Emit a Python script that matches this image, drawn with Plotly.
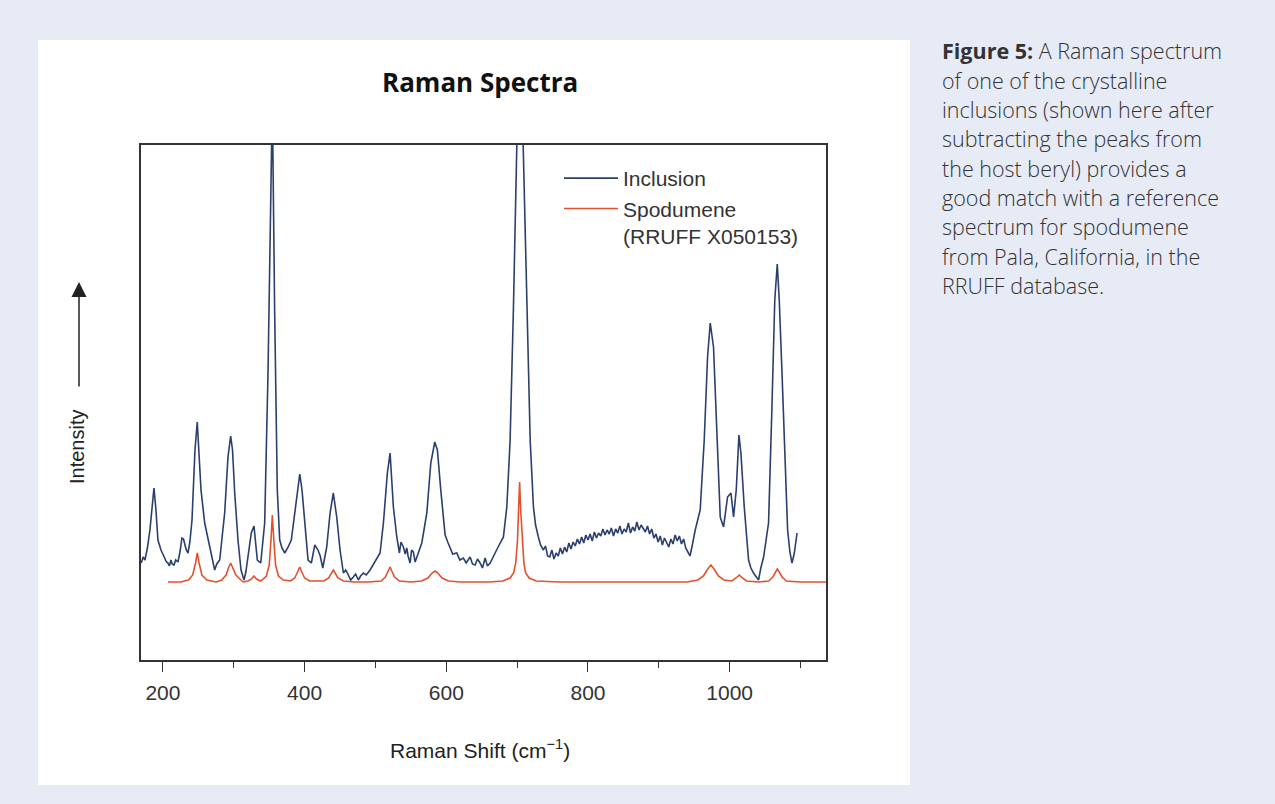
import plotly.graph_objects as go

# ---------------- data (Raman shift in cm^-1, intensity in arbitrary units) ----------------
incl_x = [169.4, 172, 174.6, 178, 181.6, 184, 187.3, 190.1, 192.9, 197.2, 202.4, 205, 207.1, 209, 211.3,
          213, 215.5, 218, 221.2, 224, 226.8, 229, 231.1, 233, 235.3, 238, 241.0, 245.2, 248.4, 250.8,
          253.7, 258.9, 262, 266.0, 269, 273.0, 276, 280.1, 287.1, 291.8, 295.6, 298.2, 301.3, 305.9,
          310.2, 314.4, 317, 320.1, 324.7, 328.5, 333.2, 338.0, 343.6, 348.3, 351.8, 354.4, 357.6,
          361.4, 364.8, 368, 371.9, 376, 381.2, 388.3, 393.1, 396.3, 400.1, 404.8, 409.5, 414.3, 418.9,
          422, 425.6, 431.2, 435.9, 440.5, 445.3, 450.0, 454.7, 458, 461.7, 465, 468.8, 472, 475.8,
          479, 482.9, 487, 492.4, 497, 501.8, 506.5, 511.2, 516.8, 520.6, 525.3, 530.1, 533.8, 536,
          539.4, 542, 544.2, 546, 548.9, 551, 553.5, 556, 558.3, 562, 565.4, 572.5, 578.1, 583.7, 587.4,
          592.2, 598.3, 602, 605.4, 609, 614.8, 619, 624.1, 628, 633.6, 637, 640.7, 644, 647.7, 651,
          654.8, 658, 661.9, 666.5, 671, 676.0, 680.6, 685.4, 690.1, 694.8, 698.6, 703.5, 708.5, 713.7,
          718.4, 723.0, 726, 730, 733, 737, 740, 743, 746, 749, 752, 755, 758, 761, 764, 767, 770, 773,
          776, 779, 782, 785, 788, 791, 794, 797, 800, 803, 806, 809, 812, 815, 818, 821, 824, 827,
          830, 833, 836, 839, 842, 845, 848, 851, 854, 857, 860, 863, 866, 869, 872, 875, 878, 881,
          884, 887, 890, 893, 896, 899, 902, 905, 908, 911, 914, 917, 920, 923, 926, 929, 932, 935,
          938, 941, 944, 947, 951.4, 958.4, 964.1, 968.8, 972.6, 977.2, 982.0, 986.7, 991.4, 994,
          997.0, 1001.8, 1005.5, 1009.3, 1013.1, 1015.9, 1020.6, 1026.7, 1030, 1033.7, 1037, 1040.8,
          1044, 1047.9, 1051, 1054.9, 1059.7, 1063.7, 1067.2, 1070.0, 1073.9, 1078.5, 1081.8, 1085,
          1088.0, 1091.3, 1095.1]
incl_y = [97, 103, 100, 112, 130, 150, 172, 150, 120, 110, 103, 98, 97, 94, 100,
          96, 95, 100, 98, 108, 122, 121, 115, 110, 107, 118, 140, 210, 238, 210,
          170, 137, 126, 113, 104, 90, 96, 100, 147, 203, 224, 210, 167, 120,
          90, 80, 88, 103, 127, 134, 100, 97, 137, 287, 460, 560, 353,
          170, 120, 112, 107, 112, 120, 160, 186, 170, 137, 100, 97, 115, 110,
          104, 92, 113, 147, 167, 143, 110, 87, 90, 85, 80, 83, 86, 80,
          84, 87, 85, 90, 96, 102, 107, 137, 187, 207, 153, 123, 107, 118,
          113, 106, 112, 104, 97, 110, 108, 98, 103, 110, 117, 147, 197, 218, 210,
          170, 125, 118, 113, 106, 107, 100, 102, 97, 103, 96, 95, 101, 97, 92,
          102, 94, 97, 103, 110, 117, 123, 153, 220, 353, 515, 650, 515, 353,
          220, 153, 135, 123, 115, 110, 114, 104, 103, 110, 101, 107, 104, 112, 106, 113, 108, 117,
          111, 118, 114, 121, 116, 123, 117, 125, 120, 126, 119, 128, 122, 127, 124, 131, 125, 130,
          126, 132, 124, 131, 127, 134, 126, 131, 128, 137, 127, 133, 129, 138, 130, 135, 131, 128,
          134, 126, 131, 122, 126, 118, 124, 115, 122, 117, 113, 121, 116, 125, 119, 124, 116, 121,
          112, 108, 104, 114, 130, 150, 220, 303, 337, 313, 220, 143, 133, 150,
          163, 167, 143, 170, 225, 207, 153, 100, 92, 87, 84, 80,
          92, 103, 118, 137, 253, 360, 396, 360, 287, 187, 130, 108,
          97, 107, 127]

spod_x = [207.1, 225, 236, 242, 246, 248.4, 251, 255, 262, 275, 283, 289, 293, 295.6, 298, 303, 310,
          313.3, 320, 325, 328.5, 332, 338, 340, 346, 350, 352.5, 354.4, 356.5, 359, 363, 370, 380,
          386, 390, 393.1, 396, 400, 407, 427, 434, 438, 440.5, 443, 447, 455, 470, 490, 508, 514,
          518, 520.6, 523, 527, 534, 550, 565, 574, 580, 584.2, 588, 594, 603, 620, 660, 680, 690,
          695, 698, 700.5, 702, 703.5, 705, 707, 709.5, 712, 717, 727, 760, 800, 850, 900, 940, 955,
          963, 969, 973.6, 978, 984, 992, 1003, 1009, 1013.6, 1018, 1024, 1040, 1055, 1061, 1065,
          1067.2, 1070, 1074, 1080, 1100, 1140]
spod_y = [78, 78, 80, 85, 97, 107, 97, 85, 80, 78, 80, 85, 93, 97, 93, 85, 80,
          78, 79, 81, 84, 81, 79, 80, 84, 95, 120, 145, 120, 95, 84, 80, 79,
          82, 88, 93, 88, 82, 79, 79, 82, 87, 90, 87, 82, 79, 78, 78, 79, 83,
          89, 93, 89, 83, 79, 78, 79, 82, 87, 89, 87, 82, 79, 78, 78, 79, 82,
          87, 97, 120, 150, 178, 150, 120, 97, 87, 82, 79, 78, 78, 78, 78, 78, 80,
          84, 91, 95, 91, 84, 80, 79, 82, 85, 82, 79, 78, 79, 83, 88,
          91, 88, 83, 79, 78, 78]

x_major_ticks = [200, 400, 600, 800, 1000]
x_major_labels = ["200", "400", "600", "800", "1000"]
x_minor_ticks = [300, 500, 700, 900, 1100]

caption_lines = [
    "<b>Figure 5:</b> A Raman spectrum",
    "of one of the crystalline",
    "inclusions (shown here after",
    "subtracting the peaks from",
    "the host beryl) provides a",
    "good match with a reference",
    "spectrum for spodumene",
    "from Pala, California, in the",
    "RRUFF database.",
]

# ---------------- geometry ----------------
W, H = 1275, 804
L, R, T, B = 141, 826, 145, 660
pw, ph = R - L, B - T


def px(x):
    return (x - L) / pw


def py(y):
    return (B - y) / ph


fig = go.Figure()
fig.add_trace(go.Scatter(x=incl_x, y=incl_y, mode="lines", name="Inclusion",
                         line=dict(color="#2b3f6e", width=1.6), legendgroup="a"))
fig.add_trace(go.Scatter(x=spod_x, y=spod_y, mode="lines", name="Spodumene<br>(RRUFF X050153)",
                         line=dict(color="#e2512d", width=1.6), legendgroup="b"))

font_main = "Liberation Sans, Arial, sans-serif"

fig.update_layout(
    width=W, height=H,
    margin=dict(l=L, r=W - R, t=T, b=H - B),
    paper_bgcolor="#e6ebf6",
    plot_bgcolor="white",
    showlegend=True,
    legend=dict(x=px(559), y=py(158), xanchor="left", yanchor="top",
                bgcolor="rgba(0,0,0,0)", font=dict(family=font_main, size=21, color="#333333"),
                valign="top", itemwidth=54, tracegroupgap=0, traceorder="grouped"),
    xaxis=dict(range=[169, 1136], showline=True, linecolor="#333333", linewidth=1.5, mirror=True,
               ticks="outside", ticklen=10, tickwidth=1.3, tickcolor="#333333",
               tickvals=x_major_ticks, ticktext=x_major_labels, ticklabelstandoff=3,
               tickfont=dict(family=font_main, size=21, color="#333333"),
               minor=dict(tickvals=x_minor_ticks, ticks="outside", ticklen=6, tickwidth=1.3,
                          tickcolor="#333333", showgrid=False),
               showgrid=False, zeroline=False),
    yaxis=dict(range=[0, 515], showline=True, linecolor="#333333", linewidth=1.5, mirror=True,
               showticklabels=False, ticks="", showgrid=False, zeroline=False),
    shapes=[dict(type="rect", xref="paper", yref="paper", x0=px(38), x1=px(910), y0=py(785), y1=py(40),
                 fillcolor="white", line=dict(width=0), layer="below")],
)

ann = []
ann.append(dict(text="<b>Raman Spectra</b>", x=px(480), y=py(82), xref="paper", yref="paper",
                showarrow=False, xanchor="center", yanchor="middle",
                font=dict(family="Open Sans, sans-serif", size=26, color="#111111")))
ann.append(dict(text="Raman Shift (cm<sup>\u22121</sup>)", x=px(480), y=py(749), xref="paper", yref="paper",
                showarrow=False, xanchor="center", yanchor="middle",
                font=dict(family=font_main, size=21, color="#222222")))
ann.append(dict(text="Intensity", x=px(77), y=py(447), xref="paper", yref="paper", textangle=-90,
                showarrow=False, xanchor="center", yanchor="middle",
                font=dict(family=font_main, size=20, color="#222222")))
ann.append(dict(text="", x=px(79), y=py(282), xref="paper", yref="paper", showarrow=True,
                ax=0, ay=106, arrowhead=2, arrowsize=2, arrowwidth=1.5, arrowcolor="#222222"))
for i, line in enumerate(caption_lines):
    ann.append(dict(text=line, x=px(940), y=py(51 + i * 29.3), xref="paper", yref="paper",
                    showarrow=False, xanchor="left", yanchor="middle", align="left",
                    font=dict(family="Open Sans, sans-serif", size=21.5, color="#333333", weight=300)))
fig.update_layout(annotations=ann)

fig.write_html("out.html")
